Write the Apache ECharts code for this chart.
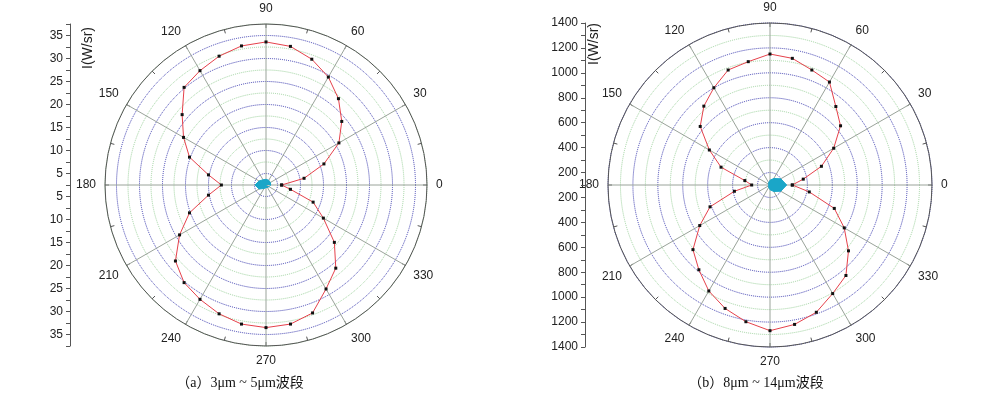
<!DOCTYPE html>
<html>
<head>
<meta charset="utf-8">
<script src="https://cdn.jsdelivr.net/npm/echarts@6/dist/echarts.min.js"></script>
<style>html,body{margin:0;padding:0;background:#fff}#c{width:992px;height:397px}</style>
</head>
<body>
<div id="c"></div>
<script>
// ---- data ----
const angles = [0,10,20,30,40,50,60,70,80,90,100,110,120,130,140,150,160,170,180,190,200,210,220,230,240,250,260,270,280,290,300,310,320,330,340,350];
const intensityA = [5.9,10.9,15.9,20.8,24.0,27.0,29.6,31.6,33.1,33.6,33.2,32.3,31.2,30.2,26.3,23.2,20.2,15.2,12.2,15.2,20.2,24.2,28.2,30.2,31.2,32.3,33.2,33.5,33.2,32.1,28.6,26.1,21.9,16.9,13.4,7.9];
const intensityB = [279,371,539,690,839,922,1054,1082,1132,1151,1105,1082,1001,926,831,662,518,305,247,390,612,751,907,988,1082,1154,1214,1269,1236,1187,1106,1048,922,788,649,420];
const blobAngles = [0,30,60,90,120,150,180,210,240,270,300,330];
const blobA = [3.52,3.59,3.70,3.74,3.80,4.24,4.89,4.24,3.37,3.09,3.04,3.26];
const blobB = [234,200,160,138,122,114,110,114,122,138,160,200];
const angleTicks = [0,30,60,90,120,150,180,210,240,270,300,330];
const radialA = {min:2.5, max:37.5, step:2.5, major:5};
const radialB = {min:100, max:1400, step:100, major:200};
const yName = 'I(W/sr)';
const captionA = '（a）3μm ~ 5μm波段';
const captionB = '（b）8μm ~ 14μm波段';

// ---- build ----
function closed(vals, angs){
  const d = angs.map((a,i)=>[vals[i], a]);
  d.push([vals[0], 360]);
  return d;
}
const BLUE = '#3b3bb0', GREEN = '#9ed39e', AXIS = '#555', TXT = '#222';
const FONT = 'Arial, "Liberation Sans", sans-serif';

function angleAxis(idx){
  return {
    polarIndex: idx, type:'value', min:0, max:360, interval:30,
    startAngle:0, clockwise:false,
    axisLine:{show:true, lineStyle:{color:AXIS, width:1}},
    axisTick:{show:true, inside:true, length:4, lineStyle:{color:AXIS}},
    minorTick:{show:true, splitNumber:2, length:4, lineStyle:{color:AXIS}},
    axisLabel:{color:TXT, fontSize:12, fontFamily:FONT, margin:9,
      formatter: v => (angleTicks.indexOf(v) >= 0 ? String(v) : '')},
    splitLine:{show:true, lineStyle:{color:'#9aa39a', width:1}}
  };
}
function radiusAxis(idx, R){
  return {
    polarIndex: idx, type:'value', min:R.min, max:R.max, interval:R.step,
    axisLine:{show:false}, axisTick:{show:false}, axisLabel:{show:false},
    splitLine:{show:true, lineStyle:{color:[GREEN, BLUE], type:'dotted', width:1}}
  };
}
function yAx(gi, R, inverse){
  return {
    gridIndex: gi, type:'value', min:R.min, max:R.max, interval:R.step, inverse:inverse,
    position:'left',
    axisLine:{show:true, lineStyle:{color:AXIS, width:1}},
    axisTick:{show:true, length:4, lineStyle:{color:AXIS}},
    axisLabel:{color:TXT, fontSize:12, fontFamily:FONT, margin:7,
      formatter: v => (Math.abs(v % R.major) < 1e-9 ? String(v) : '')},
    splitLine:{show:false}
  };
}
function lineSeries(pi, vals){
  return {type:'line', coordinateSystem:'polar', polarIndex:pi, data:closed(vals, angles),
    symbol:'rect', symbolSize:3, showSymbol:true, itemStyle:{color:'#111'},
    lineStyle:{color:'#e5414b', width:1}, z:5, animation:false};
}
function blobSeries(pi, vals){
  return {type:'line', coordinateSystem:'polar', polarIndex:pi, data:closed(vals, blobAngles),
    symbol:'none', smooth:false, lineStyle:{color:'#1aa6c8', width:1},
    areaStyle:{color:'#1aa6c8', opacity:1}, z:6, animation:false};
}

const chart = echarts.init(document.getElementById('c'), null, {renderer:'canvas'});
chart.setOption({
  backgroundColor:'#fff',
  animation:false,
  polar:[{center:[266,185], radius:161},{center:[770,185], radius:162}],
  angleAxis:[angleAxis(0), angleAxis(1)],
  radiusAxis:[radiusAxis(0, radialA), radiusAxis(1, radialB)],
  grid:[
    {left:70, top:24, width:20, height:161},
    {left:70, top:185, width:20, height:161},
    {left:585, top:23, width:20, height:162},
    {left:585, top:185, width:20, height:162}
  ],
  xAxis:[0,1,2,3].map(i=>({gridIndex:i, type:'value', show:false})),
  yAxis:[yAx(0,radialA,false), yAx(1,radialA,true), yAx(2,radialB,false), yAx(3,radialB,true)],
  series:[lineSeries(0,intensityA), blobSeries(0,blobA), lineSeries(1,intensityB), blobSeries(1,blobB)],
  graphic:[
    {type:'text', x:88, y:48, rotation:Math.PI/2, style:{text:yName, fill:TXT, font:'14px '+FONT, textAlign:'center', textVerticalAlign:'middle'}},
    {type:'text', x:594, y:44, rotation:Math.PI/2, style:{text:yName, fill:TXT, font:'14px '+FONT, textAlign:'center', textVerticalAlign:'middle'}},
    {type:'text', x:240, y:383, style:{text:captionA, fill:'#111', font:'14px "Liberation Serif", "Noto Sans CJK SC", serif', textAlign:'center', textVerticalAlign:'middle'}},
    {type:'text', x:756, y:383, style:{text:captionB, fill:'#111', font:'14px "Liberation Serif", "Noto Sans CJK SC", serif', textAlign:'center', textVerticalAlign:'middle'}}
  ]
});
</script>
</body>
</html>
